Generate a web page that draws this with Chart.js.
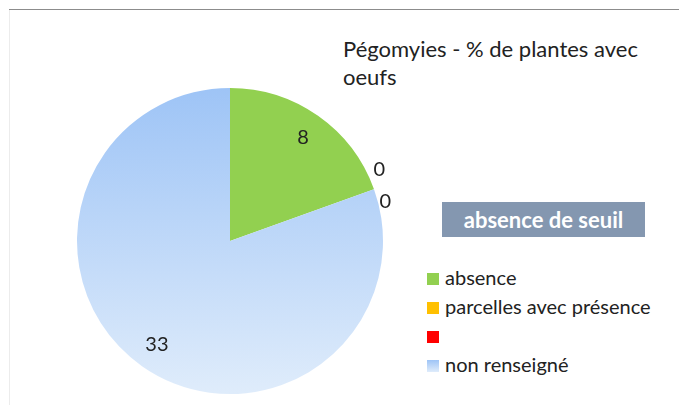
<!DOCTYPE html>
<html>
<head>
<meta charset="utf-8">
<script src="https://cdn.jsdelivr.net/npm/chart.js@4.4.0/dist/chart.umd.min.js"></script>
<style>
body{margin:0;width:679px;height:405px;background:#fff;position:relative;overflow:hidden;font-family:Lato,sans-serif;color:#222}
#frameTop{position:absolute;left:9px;top:9px;width:670px;height:1px;background:#8c8c8c}
#frameLeft{position:absolute;left:9px;top:10px;width:1px;height:395px;background:#ececec}
#pieBox{position:absolute;left:57px;top:68px;width:346px;height:346px}
#titre{position:absolute;left:343px;top:35px;width:310px;font-size:22px;line-height:28px}
#seuil{position:absolute;left:442px;top:202px;width:203px;height:35px;background:#8497b0;color:#fff;font-weight:bold;font-size:22px;line-height:35px;text-align:center}
#legende{position:absolute;left:427px;top:263px;font-size:20px}
.item{height:29px;line-height:28px;white-space:nowrap}
.carre{display:inline-block;width:12px;height:12px;margin-right:6px;vertical-align:0px}
</style>
</head>
<body>
<div id="frameTop"></div>
<div id="frameLeft"></div>
<div id="titre">Pégomyies - % de plantes avec oeufs</div>
<div id="seuil">absence de seuil</div>
<div id="legende"></div>
<div id="pieBox"><canvas id="camembert"></canvas></div>
<script>
// categories et valeurs
var categories = ["absence", "parcelles avec présence", "", "non renseigné"];
var valeurs = [8, 0, 0, 33];
var couleurs = ["#92d050", "#ffc000", "#ff0000", "degrade"];
var bleuHaut = "#9ec4f6";
var bleuBas = "#dfecfb";

// legende
var leg = document.getElementById("legende");
for (var i = 0; i < categories.length; i++) {
  var fond = couleurs[i] == "degrade" ? "linear-gradient(" + bleuHaut + "," + bleuBas + ")" : couleurs[i];
  var d = document.createElement("div");
  d.className = "item";
  d.innerHTML = '<span class="carre" style="background:' + fond + '"></span>' + categories[i];
  leg.appendChild(d);
}

function couleurPart(ctx) {
  var c = couleurs[ctx.dataIndex];
  if (c != "degrade") return c;
  var area = ctx.chart.chartArea;
  if (!area) return bleuHaut;
  var g = ctx.chart.ctx.createLinearGradient(0, area.top, 0, area.bottom);
  g.addColorStop(0, bleuHaut);
  g.addColorStop(1, bleuBas);
  return g;
}

// etiquettes de valeurs
var etiquettes = {
  id: "etiquettes",
  afterDatasetsDraw: function(chart) {
    var ctx = chart.ctx;
    var arcs = chart.getDatasetMeta(0).data;
    ctx.save();
    ctx.font = "20px Lato, sans-serif";
    ctx.fillStyle = "#222";
    ctx.textAlign = "center";
    ctx.textBaseline = "middle";
    var zeros = 0;
    for (var i = 0; i < arcs.length; i++) {
      var a = arcs[i];
      var mid = (a.startAngle + a.endAngle) / 2;
      var r, dy = 0, dx = 0;
      if (valeurs[i] == 0) {
        r = a.outerRadius + 12;
        dy = zeros == 0 ? -16 : 16;
        dx = zeros == 0 ? -6 : 0;
        zeros++;
      } else {
        r = a.outerRadius * 0.83;
      }
      ctx.fillText(valeurs[i], a.x + Math.cos(mid) * r + dx, a.y + Math.sin(mid) * r + dy);
    }
    ctx.restore();
  }
};

function dessiner() {
  new Chart(document.getElementById("camembert"), {
    type: "pie",
    data: {
      labels: categories,
      datasets: [{
        data: valeurs,
        backgroundColor: couleurPart,
        borderWidth: 0
      }]
    },
    options: {
      responsive: true,
      maintainAspectRatio: false,
      animation: false,
      events: [],
      layout: { padding: 20 },
      plugins: { legend: { display: false }, tooltip: { enabled: false } }
    },
    plugins: [etiquettes]
  });
}
document.fonts.load("20px Lato").then(dessiner, dessiner);
</script>
</body>
</html>
